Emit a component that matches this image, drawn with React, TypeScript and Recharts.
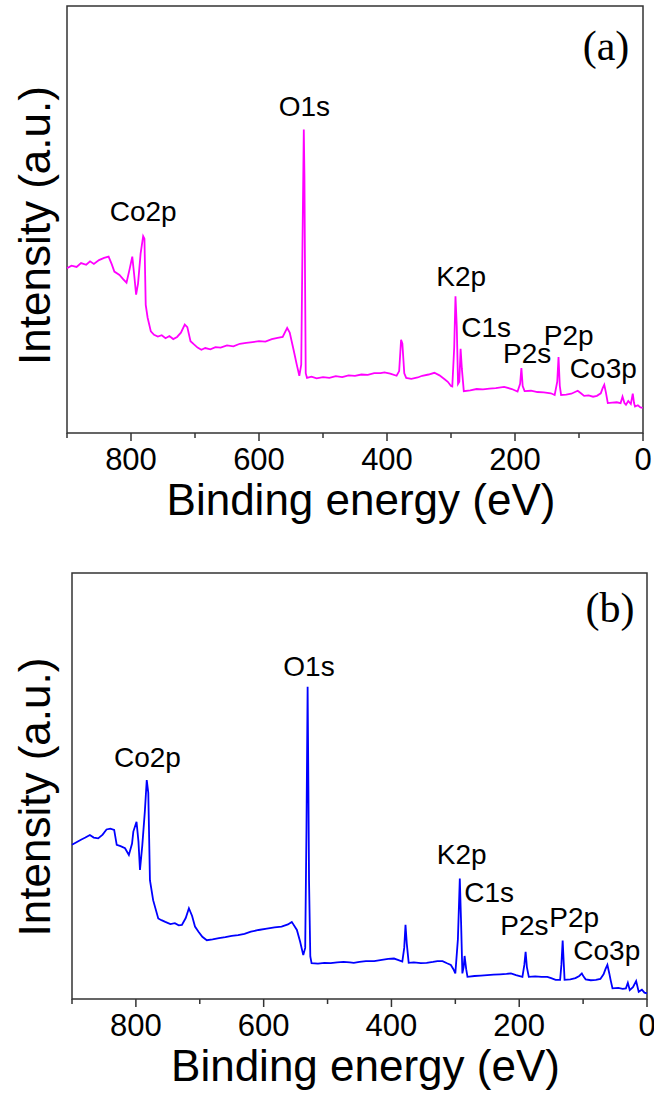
import { LineChart, Line, XAxis, YAxis, ReferenceArea, ReferenceDot } from "recharts"

const FONT = '"Liberation Sans", Arial, sans-serif'
const AXIS = "#333333"

const xTicks = [900, 800, 700, 600, 500, 400, 300, 200, 100, 0]
const peakNames = ["O1s", "Co2p", "K2p", "C1s", "P2s", "P2p", "Co3p"]

// panel (a)
const energyA = [
  900, 893, 885, 878, 870, 864, 858, 850, 842, 835, 830, 826, 818, 812, 807, 802, 798, 795, 792, 789,
  785, 781, 779, 777, 774, 769, 764, 758, 752, 746, 740, 734, 728, 722, 716, 712, 707, 702, 696, 690,
  684, 676, 668, 660, 650, 640, 630, 620, 610, 600, 590, 580, 571, 563, 556, 552, 546, 541, 537, 534,
  532, 530, 529, 528, 527, 525, 518, 510, 500, 490, 480, 470, 460, 450, 440, 430, 420, 410, 404, 395,
  385, 381, 378, 376, 373, 370, 362, 352, 345, 335, 326, 318, 310, 305, 300, 298, 295, 293, 291, 289,
  287, 285, 283, 280, 270, 260, 250, 240, 230, 217, 205, 196, 192, 190, 188, 185, 175, 165, 155, 144,
  138, 134, 132, 130, 128, 120, 112, 102, 97, 92, 85, 78, 72, 66, 63, 60.5, 58, 55, 48, 41,
  35, 32, 29, 26.6, 23, 19, 16, 14, 12.5, 8, 4, 0.5,
]
const intensityA = [
  38.6, 39.2, 38.9, 39.8, 39.4, 40.2, 39.6, 40.5, 41.0, 41.3, 39.5, 37.8, 37.0, 36.0, 35.2, 38.5, 41.3, 37.0, 32.4, 35.0,
  42.0, 46.1, 45.5, 30.0, 27.0, 23.8, 23.0, 22.6, 22.9, 22.2, 22.7, 22.0, 22.5, 23.5, 25.4, 24.8, 21.5, 20.8, 20.0, 19.5,
  19.9, 19.6, 20.1, 20.0, 20.5, 20.3, 20.9, 21.1, 21.3, 21.5, 21.4, 22.0, 22.3, 22.5, 24.6, 23.5, 19.5, 16.0, 13.4, 16.0,
  45.0, 71.1, 60.0, 35.0, 14.0, 12.9, 13.2, 12.8, 13.1, 12.9, 13.3, 13.1, 13.5, 13.4, 13.7, 13.6, 14.0, 14.0, 14.2, 13.9,
  13.4, 14.5, 21.8, 21.0, 14.0, 12.9, 12.7, 13.0, 13.4, 13.7, 14.1, 13.5, 12.6, 12.0, 11.0, 10.9, 20.0, 32.0, 25.0, 11.5,
  12.0, 19.7, 15.0, 9.8, 10.0, 10.3, 10.2, 10.4, 10.5, 10.8, 10.3, 9.7, 11.5, 15.2, 11.0, 9.8, 9.9, 9.6, 9.5, 9.3,
  8.9, 12.0, 17.8, 11.0, 8.9, 9.0, 9.2, 9.9, 9.3, 8.7, 8.8, 8.5, 8.7, 9.3, 10.5, 11.3, 9.5, 7.0, 7.1, 7.2,
  7.0, 8.5, 7.0, 6.6, 7.5, 6.8, 9.2, 7.0, 6.2, 6.5, 6.0, 5.9,
]
const labelXA = [529, 781, 284, 245, 181, 116, 62]
const labelYA = [76.5, 52, 36.7, 24.9, 18.8, 23, 15.2]

// panel (b)
const energyB = [
  900, 893, 886, 879, 872, 866, 859, 852, 846, 840, 834, 830, 824, 817, 811, 806, 804, 799, 796, 793.6,
  790, 786, 783, 780.6, 778, 773, 765, 760, 754, 746, 739, 733, 728, 722, 717, 712, 707.5, 702, 696, 689,
  680, 670, 660, 650, 640, 630, 620, 608, 595, 583, 572, 562, 556, 548, 543, 538, 535, 533, 531.2, 530,
  529, 527, 525, 515, 505, 495, 485, 475, 465, 459, 450, 440, 427, 415, 405, 396, 390, 383, 380, 378,
  376, 373, 365, 354, 345, 335, 328, 320, 313, 307, 303, 300, 296, 293, 291, 289, 287, 285.5, 283, 281,
  270, 260, 250, 240, 230, 220, 213, 205, 195, 192, 190, 188, 185, 175, 165, 156, 150, 143, 136, 134,
  132, 130, 129, 120, 112, 106, 102, 99, 96, 88, 80, 73, 68, 65, 62, 59, 57, 54, 45, 38,
  33, 30, 27, 22, 17, 13, 8, 4, 0,
]
const intensityB = [
  36.2, 36.8, 37.4, 37.9, 38.5, 37.9, 37.7, 38.6, 39.8, 40.0, 39.7, 36.2, 35.9, 35.4, 33.8, 36.5, 39.3, 41.6, 37.0, 30.3,
  36.0, 44.0, 51.4, 48.4, 27.9, 23.2, 18.9, 18.5, 18.1, 17.6, 17.8, 17.3, 17.4, 19.0, 21.3, 19.5, 17.0, 15.8, 14.6, 13.8,
  14.0, 14.3, 14.5, 14.8, 15.0, 15.3, 15.8, 16.2, 16.5, 16.8, 17.0, 17.5, 18.1, 16.2, 13.5, 10.3, 12.0, 40.0, 73.3, 50.0,
  27.9, 10.0, 8.4, 8.3, 8.5, 8.4, 8.6, 8.7, 8.6, 8.5, 8.7, 8.9, 8.9, 9.2, 9.4, 9.5, 9.2, 8.8, 12.0, 17.4,
  13.0, 8.5, 8.6, 8.4, 8.5, 8.7, 8.9, 8.9, 8.4, 8.0, 7.0, 6.0, 14.0, 28.3, 18.0, 6.0, 7.5, 10.1, 7.0, 5.2,
  5.4, 5.5, 5.6, 5.7, 5.8, 5.9, 6.0, 5.6, 5.2, 8.0, 11.1, 7.5, 5.2, 5.3, 5.2, 5.2, 4.9, 4.5, 4.5, 8.0,
  13.7, 7.5, 4.5, 4.6, 4.9, 5.4, 6.0, 5.2, 4.6, 4.4, 4.5, 4.7, 5.8, 7.0, 8.0, 6.0, 4.5, 2.5, 2.6, 2.4,
  2.5, 3.8, 2.1, 2.8, 4.2, 1.7, 2.2, 1.5, 1.3,
]
const labelXB = [529, 782, 290, 247, 192, 114, 63]
const labelYB = [78.2, 56.7, 34, 25, 17.4, 19.3, 11.5]

const XTick = (props: any) => {
  const { x, y, payload } = props
  const v = payload.value
  const major = v % 200 === 0
  return (
    <g>
      <line x1={x} x2={x} y1={y} y2={y + (major ? 8 : 5)} stroke={AXIS} strokeWidth={1.5} />
      {major && (
        <text x={x} y={y + 15} dy="0.71em" textAnchor="middle" fontSize={31} fontFamily={FONT} fill="#000">
          {v}
        </text>
      )}
    </g>
  )
}

function Panel(props: any) {
  const { energy, intensity, labelX, labelY, color, tag, top, height, box, yLabelShift } = props
  const data = energy.map((e: number, i: number) => ({ e, v: intensity[i] }))
  return (
    <div style={{ position: "absolute", left: 0, top }}>
      <LineChart
        width={654}
        height={height}
        data={data}
        margin={{ top: box.top, right: 654 - box.right, left: 0, bottom: 0 }}
      >
        <XAxis
          dataKey="e"
          type="number"
          domain={[0, 900]}
          reversed
          ticks={xTicks}
          interval={0}
          tickSize={0}
          tickMargin={0}
          tickLine={false}
          axisLine={false}
          tick={<XTick />}
          height={height - box.bottom}
          label={{
            content: ({ viewBox }: any) => (
              <text
                x={viewBox.x + viewBox.width / 2 + 6}
                y={viewBox.y + 82}
                textAnchor="middle"
                fontSize={44}
                fontFamily={FONT}
                fill="#000"
              >
                Binding energy (eV)
              </text>
            ),
          }}
        />
        <YAxis
          type="number"
          domain={[0, 100]}
          tick={false}
          tickLine={false}
          axisLine={false}
          width={box.left}
          label={{
            content: ({ viewBox }: any) => {
              const cy = viewBox.y + viewBox.height / 2 + yLabelShift
              return (
                <text
                  x={50}
                  y={cy}
                  transform={`rotate(-90 50 ${cy})`}
                  textAnchor="middle"
                  fontSize={44}
                  fontFamily={FONT}
                  fill="#000"
                >
                  Intensity (a.u.)
                </text>
              )
            },
          }}
        />
        <ReferenceArea
          x1={900}
          x2={0}
          y1={0}
          y2={100}
          fill="none"
          stroke={AXIS}
          strokeWidth={1.5}
          ifOverflow="visible"
        />
        <Line
          dataKey="v"
          type="linear"
          stroke={color}
          strokeWidth={1.8}
          dot={false}
          isAnimationActive={false}
        />
        {peakNames.map((name, i) => (
          <ReferenceDot
            key={name}
            x={labelX[i]}
            y={labelY[i]}
            r={0}
            fill="none"
            stroke="none"
            label={{ value: name, position: "center", fontSize: 28, fontFamily: FONT, fill: "#000" }}
          />
        ))}
      </LineChart>
      <div
        style={{
          position: "absolute",
          left: tag.x - 50,
          top: tag.y - 35 - top,
          width: 100,
          textAlign: "center",
          fontFamily: '"Liberation Serif", "Times New Roman", serif',
          fontSize: 42,
          lineHeight: 1,
          color: "#000",
        }}
      >
        {tag.text}
      </div>
    </div>
  )
}

export default function App() {
  return (
    <div style={{ position: "absolute", left: 0, top: 0, width: 654, height: 1099, background: "#fff" }}>
      <Panel
        energy={energyA}
        intensity={intensityA}
        labelX={labelXA}
        labelY={labelYA}
        color="#ff00ff"
        tag={{ text: "(a)", x: 606, y: 60 }}
        top={0}
        height={545}
        box={{ left: 67, right: 643, top: 6, bottom: 433 }}
        yLabelShift={6}
      />
      <Panel
        energy={energyB}
        intensity={intensityB}
        labelX={labelXB}
        labelY={labelYB}
        color="#0000ff"
        tag={{ text: "(b)", x: 610, y: 622 }}
        top={545}
        height={554}
        box={{ left: 72, right: 647, top: 28, bottom: 454 }}
        yLabelShift={11}
      />
    </div>
  )
}
